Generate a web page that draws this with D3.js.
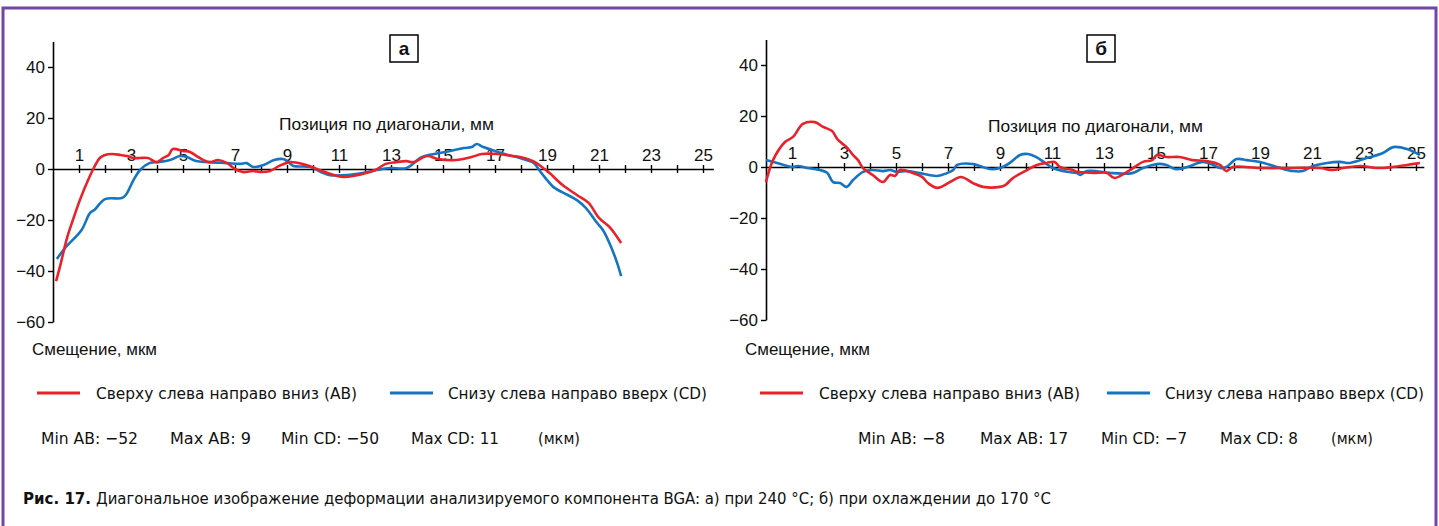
<!DOCTYPE html>
<html>
<head>
<meta charset="utf-8">
<script src="https://cdn.jsdelivr.net/npm/d3@7"></script>
<style>
  body { margin: 0; background: #fff; }
  svg { display: block; }
  .num { font-family: "Liberation Sans", Arial, sans-serif; font-size: 17px; fill: #111; }
  .cond { font-family: "DejaVu Sans Condensed", "Liberation Sans", sans-serif; font-size: 16px; fill: #111; }
</style>
</head>
<body>
<svg id="chart" width="1439" height="526"></svg>
<script>
// --- data, x = position along diagonal, mm; y = displacement, um
var yTicks = [40, 20, 0, -20, -40, -60];
var xTicks = d3.range(1, 26);            // ticks every mm, labels on odd ones
var panelLabels = ["а", "б"];
var xTitle = "Позиция по диагонали, мм";
var yTitle = "Смещение, мкм";
var legendAB = "Сверху слева направо вниз (АВ)";
var legendCD = "Снизу слева направо вверх (CD)";
var statsA = ["Min AB: −52", "Max AB: 9", "Min CD: −50", "Max CD: 11", "(мкм)"];
var statsB = ["Min AB: −8", "Max AB: 17", "Min CD: −7", "Max CD: 8", "(мкм)"];
var captionBold = "Рис. 17.";
var captionText = "Диагональное изображение деформации анализируемого компонента BGA: а) при 240 °С; б) при охлаждении до 170 °С";

var aAB = [[0.12,-44],[0.3,-37],[0.54,-27],[0.8,-19],[1.04,-12],[1.35,-4.3],[1.55,0],[1.8,4.3],[2.0,5.5],[2.27,5.9],
  [2.6,5.5],[2.85,5.1],[3.1,4.3],[3.35,4.3],[3.65,4.3],[4.0,2.7],[4.23,4.3],[4.45,5.5],[4.6,7.8],[5.0,7.1],[5.27,6.7],
  [5.58,4.7],[6.0,2.7],[6.35,3.5],[6.7,2.3],[7.0,0],[7.3,-1.2],[7.7,-0.8],[8.0,-1.2],[8.35,-0.8],[8.7,1.2],[9.1,2.7],
  [9.6,2],[9.95,0.8],[10.46,-1.2],[11.17,-3.1],[11.9,-2],[12.4,-0.4],[12.8,2],[13.2,2.7],[13.6,3.1],[13.85,2.7],
  [14.4,5.1],[14.8,3.9],[15.5,3.5],[16.1,4.7],[16.5,5.9],[17.1,5.9],[17.4,5.5],[17.96,4.7],[18.35,3.5],[18.6,2.3],
  [18.85,0.4],[19.1,-1.6],[19.6,-6.3],[20.15,-10.2],[20.6,-13.3],[21.0,-19.2],[21.4,-22.7],[21.85,-29]];
var aCD = [[0.15,-35.3],[0.46,-31],[1.1,-23.9],[1.42,-17.3],[1.6,-16],[2.0,-11.8],[2.65,-11.4],[2.8,-10.2],[3.1,-4.3],
  [3.35,-0.4],[3.73,2.4],[4.05,2.7],[4.5,3.5],[4.88,5.1],[5.15,4.7],[5.5,3.1],[6.0,2.7],[6.7,2.3],[7.2,2],[7.45,2.3],
  [7.7,0.8],[8.1,1.6],[8.5,3.5],[8.85,3.9],[9.1,2.3],[9.25,1.2],[9.9,0.8],[10.3,-1.2],[10.65,-2.4],[11.3,-2.4],
  [11.9,-1.6],[12.45,-0.4],[12.96,0.4],[13.6,0.4],[14.2,4.7],[15.1,6.7],[15.8,8.2],[16.1,8.6],[16.3,9.8],[16.55,8.6],
  [17.0,7.1],[17.5,5.5],[17.96,4.3],[18.2,3.5],[18.5,2.3],[18.7,-0.4],[19.0,-4.3],[19.25,-7.1],[19.8,-10.2],
  [20.15,-12.2],[20.5,-15.3],[20.9,-20.8],[21.15,-23.9],[21.4,-29],[21.7,-36.9],[21.85,-42]];
var bAB = [[0,-5.9],[0.27,2.7],[0.73,9.8],[1.04,11.8],[1.42,16.9],[1.88,17.6],[2.2,15.7],[2.54,14.1],[2.77,10.6],
  [3.1,7.8],[3.35,4.7],[3.54,2.7],[3.73,-0.4],[4.1,-3.1],[4.5,-5.9],[4.77,-3.1],[4.96,-3.5],[5.15,-1.2],[5.65,-2.4],
  [6.0,-3.9],[6.23,-6.3],[6.6,-8.2],[7.08,-5.9],[7.5,-3.9],[7.96,-6.3],[8.35,-7.8],[9.0,-7.8],[9.2,-7.1],[9.5,-4.3],
  [10.04,-1.2],[10.42,0.8],[10.8,1.6],[11.1,2],[11.3,0],[11.8,-1.2],[11.96,-1.9],[12.6,-2.3],[13.1,-2.3],[13.4,-4.3],
  [14.0,-1.2],[14.5,2],[14.85,2.7],[15.04,4.7],[15.4,3.9],[15.9,3.9],[16.4,2.7],[16.96,2.3],[17.46,0.8],[17.7,-1.6],
  [17.96,0],[19.0,-0.4],[20.27,-0.4],[21.3,-0.4],[21.8,-1.2],[22.2,-0.4],[22.85,0.4],[23.5,-0.4],[24.1,0],
  [24.65,0.8],[25.15,1.6]];
var bCD = [[0,2.7],[0.42,1.6],[1.0,0],[1.23,0.4],[1.58,-0.4],[2.08,-1.2],[2.35,-2.3],[2.58,-5.9],[2.85,-6.3],
  [3.1,-7.8],[3.35,-5.1],[3.73,-1.9],[4.1,-1.2],[4.5,-1.6],[4.77,-1.2],[5.04,-1.9],[5.42,-1.6],[5.92,-2.4],
  [6.58,-3.5],[6.96,-2.4],[7.2,-1.2],[7.35,0.8],[7.96,1.2],[8.23,0.4],[8.6,-0.8],[9.0,-0.4],[9.38,1.6],[9.77,4.7],
  [10.08,5.1],[10.4,3.9],[10.73,1.6],[11.04,-0.4],[11.58,-1.9],[11.96,-2.4],[12.08,-3.1],[12.35,-1.6],[13.35,-2.4],
  [14.08,-2.4],[14.5,-0.4],[15.04,1.2],[15.4,0.8],[15.73,-0.8],[16.2,0],[16.8,2],[17.2,0.8],[17.46,-0.4],[17.7,0],
  [18.1,3.1],[18.5,2.7],[19.0,2],[19.65,0],[20.27,-1.6],[20.65,-1.6],[21.04,0.4],[21.58,1.6],[22.08,2],[22.46,1.6],
  [23.1,3.5],[23.73,5.5],[24.12,7.8],[24.65,7.1],[25.15,4.7]];

// --- layout
var RED = "#e8222b", BLUE = "#1575c2";
var svg = d3.select("#chart");
svg.append("rect").attr("width", 1439).attr("height", 526).attr("fill", "#fff");

// purple frame (open at the bottom)
svg.append("path")
  .attr("d", "M3,526 V8 H1436 V526")
  .attr("fill", "none").attr("stroke", "#7446a3").attr("stroke-width", 3);

var panels = [
  { left: 53, zero: 169, xMax: 25.4, ab: aAB, cd: aCD, label: panelLabels[0], box: 390,
    titleX: 279, titleY: 130, yTitleX: 32, stats: statsA,
    statsX: [41, 170, 281, 411, 538], statsW: [97, 81, 98, 88, 42],
    legX: 37, legTextX: 96, legX2: 390, legTextX2: 448 },
  { left: 766, zero: 167, xMax: 25.3, ab: bAB, cd: bCD, label: panelLabels[1], box: 1087,
    titleX: 988, titleY: 132, yTitleX: 745, stats: statsB,
    statsX: [858, 980, 1101, 1220, 1331], statsW: [87, 88, 86, 78, 42],
    legX: 760, legTextX: 819, legX2: 1107, legTextX2: 1165 }
];

panels.forEach(function(p) {
  var pxPerMm = 26, pxPerUm = 2.55;
  var x = d3.scaleLinear().domain([0, p.xMax]).range([p.left, p.left + pxPerMm * p.xMax]);
  var y = d3.scaleLinear().domain([-60, 50]).range([p.zero + 60 * pxPerUm, p.zero - 50 * pxPerUm]);
  var g = svg.append("g");

  // y axis
  var ya = g.append("g").attr("transform", "translate(" + p.left + ",0)")
    .call(d3.axisLeft(y).tickValues(yTicks).tickSize(5).tickSizeOuter(0).tickPadding(3));
  ya.attr("font-size", null).attr("font-family", null);
  ya.select(".domain").attr("stroke", "#000").attr("stroke-width", 1.6);
  ya.selectAll(".tick line").attr("stroke", "#000").attr("stroke-width", 1.4);
  ya.selectAll(".tick text").attr("class", "num");

  // x axis through zero
  var xa = g.append("g").attr("transform", "translate(0," + y(0) + ")")
    .call(d3.axisBottom(x).tickValues(xTicks).tickSizeOuter(0)
      .tickFormat(function(d) { return d % 2 ? d : ""; }));
  xa.attr("font-size", null).attr("font-family", null);
  xa.select(".domain").attr("stroke", "#000").attr("stroke-width", 1.6);
  xa.selectAll(".tick line").attr("y1", -4).attr("y2", 4).attr("stroke", "#000").attr("stroke-width", 1.4);
  xa.selectAll(".tick text").attr("class", "num").attr("y", -8).attr("dy", 0);

  // series
  var line = d3.line().x(function(d) { return x(d[0]); }).y(function(d) { return y(d[1]); })
    .curve(d3.curveCatmullRom.alpha(0.5));
  g.append("path").datum(p.cd).attr("d", line).attr("fill", "none")
    .attr("stroke", BLUE).attr("stroke-width", 2.6).attr("stroke-linejoin", "round");
  g.append("path").datum(p.ab).attr("d", line).attr("fill", "none")
    .attr("stroke", RED).attr("stroke-width", 2.6).attr("stroke-linejoin", "round");

  // titles
  g.append("text").attr("class", "num").attr("x", p.titleX).attr("y", p.titleY)
    .attr("textLength", 215).attr("lengthAdjust", "spacingAndGlyphs").text(xTitle);
  g.append("text").attr("class", "num").attr("x", p.yTitleX).attr("y", 355)
    .attr("textLength", 125).attr("lengthAdjust", "spacingAndGlyphs").text(yTitle);

  // panel label box
  g.append("rect").attr("x", p.box).attr("y", 35).attr("width", 28).attr("height", 27)
    .attr("fill", "#fff").attr("stroke", "#000").attr("stroke-width", 1.5);
  g.append("text").attr("class", "num").attr("x", p.box + 14).attr("y", 55)
    .attr("text-anchor", "middle").style("font-size", "19px").style("font-weight", "bold").text(p.label);

  // legend
  var ly = 393;
  g.append("line").attr("x1", p.legX).attr("x2", p.legX + 43).attr("y1", ly).attr("y2", ly)
    .attr("stroke", RED).attr("stroke-width", 3);
  g.append("text").attr("class", "cond").attr("x", p.legTextX).attr("y", ly + 6)
    .attr("textLength", 261).attr("lengthAdjust", "spacingAndGlyphs").text(legendAB);
  g.append("line").attr("x1", p.legX2).attr("x2", p.legX2 + 43).attr("y1", ly).attr("y2", ly)
    .attr("stroke", BLUE).attr("stroke-width", 3);
  g.append("text").attr("class", "cond").attr("x", p.legTextX2).attr("y", ly + 6)
    .attr("textLength", 259).attr("lengthAdjust", "spacingAndGlyphs").text(legendCD);

  // min / max line
  p.stats.forEach(function(s, i) {
    g.append("text").attr("class", "cond").attr("x", p.statsX[i]).attr("y", 444)
      .attr("textLength", p.statsW[i]).attr("lengthAdjust", "spacingAndGlyphs").text(s);
  });
});

// caption
svg.append("text").attr("class", "cond").attr("x", 23).attr("y", 504)
  .style("font-weight", "bold").attr("textLength", 68).attr("lengthAdjust", "spacingAndGlyphs").text(captionBold);
svg.append("text").attr("class", "cond").attr("x", 96).attr("y", 504)
  .attr("textLength", 955).attr("lengthAdjust", "spacingAndGlyphs").text(captionText);
</script>
</body>
</html>
